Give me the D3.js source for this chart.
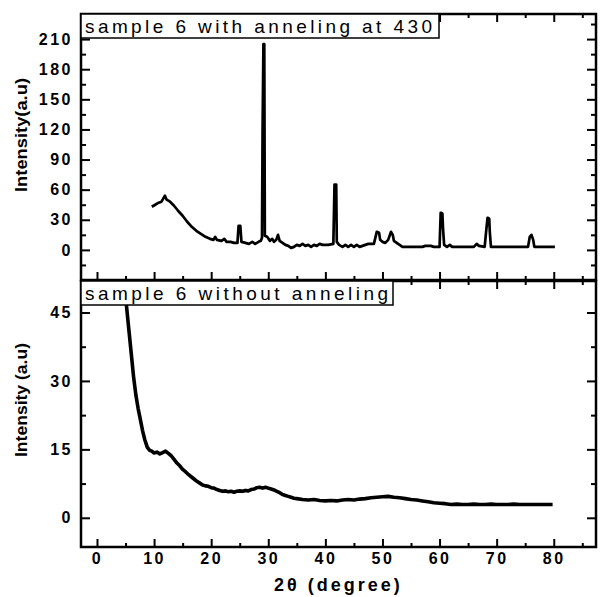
<!DOCTYPE html>
<html>
  <head>
    <meta charset="utf-8">
    <title>XRD sample 6</title>
    <script src="https://d3js.org/d3.v7.min.js"></script>
    <style>
      body { margin: 0; background: #fff; }
      text { font-family: "Liberation Sans", Arial, sans-serif; }
    </style>
  </head>
  <body>
    <script type="text/javascript">
      // 2theta ticks
      var xTicks = [0, 10, 20, 30, 40, 50, 60, 70, 80];
      var topTicks = [0, 30, 60, 90, 120, 150, 180, 210];
      var botTicks = [0, 15, 30, 45];

      // sample 6 with anneling at 430
      var annealX = [9.6, 10.2, 10.8, 11.3, 11.6, 11.9, 12.2, 12.8, 13.5, 14.2, 15.0, 15.8, 16.6, 17.4, 18.2, 19.0, 19.8, 20.4, 20.7, 21.0,
        21.8, 22.3, 22.7, 23.4, 24.0, 24.6, 24.8, 25.1, 25.3, 26.0, 26.6, 27.2, 27.7, 28.3, 28.7, 28.9, 29.0, 29.15, 29.3, 29.4,
        29.8, 30.3, 30.7, 31.0, 31.4, 31.7, 32.0, 32.5, 33.0, 33.5, 34.0, 34.5, 35.0, 35.5, 36.0, 36.5, 37.0, 37.5, 38.0, 38.5,
        39.0, 39.5, 40.0, 40.5, 41.4, 41.6, 41.9, 42.0, 42.4, 43.0, 43.5, 44.0, 44.5, 45.0, 45.5, 46.0, 46.5, 47.5, 48.5, 49.0,
        49.4, 49.6, 50.0, 50.5, 51.0, 51.5, 51.8, 52.0, 52.5, 53.0, 53.5, 55.0, 57.0, 57.5, 58.5, 59.0, 60.0, 60.2, 60.5, 60.6,
        60.8, 61.3, 61.8, 62.2, 64.0, 66.0, 66.5, 66.9, 67.9, 68.1, 68.4, 68.7, 68.8, 69.0, 71.0, 73.0, 75.5, 75.8, 76.1, 76.4,
        76.6, 78.0, 80.2];
      var annealY = [43, 45, 47, 48, 51, 54, 50, 48, 44, 39, 34, 28, 23, 19, 16, 13, 11, 10, 13, 10,
        9, 11, 8, 8, 7, 7, 24, 24, 8, 7, 6, 8, 6, 8, 9, 12, 117, 205, 205, 14,
        13, 9, 11, 8, 10, 15, 9, 7, 5, 4, 2, 3, 5, 4, 6, 4, 5, 3, 5, 4,
        6, 5, 5, 5, 6, 65, 65, 8, 5, 3, 5, 3, 5, 3, 5, 3, 4, 6, 6, 18,
        17, 10, 8, 7, 10, 18, 15, 9, 7, 5, 3, 3, 3, 4, 4, 3, 3, 37, 36, 22,
        5, 3, 5, 3, 3, 3, 6, 4, 3, 15, 32, 31, 18, 3, 3, 3, 3, 13, 15, 10,
        3, 3, 3];

      // sample 6 without anneling
      var rawX = [4.8, 5.2, 5.6, 6.0, 6.4, 6.8, 7.2, 7.6, 8.0, 8.4, 8.8, 9.2, 9.6, 10.0, 10.5, 11.0, 11.5, 12.0, 12.5, 13.0,
        13.5, 14.0, 14.5, 15.0, 15.5, 16.0, 16.5, 17.0, 17.5, 18.0, 18.5, 19.0, 19.5, 20.0, 20.5, 21.0, 21.5, 22.0, 22.5, 23.0,
        23.5, 24.0, 24.5, 25.0, 25.5, 26.0, 26.5, 27.0, 27.5, 28.0, 28.5, 29.0, 29.5, 30.0, 30.5, 31.0, 31.5, 32.0, 32.5, 33.0,
        33.5, 34.0, 34.5, 35.0, 36, 37, 38, 39, 40, 41, 42, 43, 44, 45, 46, 47, 48, 49, 50, 51,
        52, 53, 54, 55, 56, 57, 58, 59, 60, 61, 62, 63, 64, 65, 66, 67, 68, 69, 70, 71,
        72, 73, 74, 75, 76, 77, 78, 79, 79.8];
      var rawY = [52, 46, 41, 36, 31, 27, 24, 21.5, 19, 17, 15.5, 14.8, 14.6, 14.2, 14.4, 14.0, 14.3, 14.6, 14.1, 13.6,
        12.8, 12.0, 11.4, 10.6, 10.1, 9.5, 9.0, 8.5, 8.0, 7.6, 7.2, 7.0, 6.9, 6.6, 6.5, 6.2, 6.0, 5.8, 5.9, 5.7,
        5.8, 5.6, 5.8, 5.9, 5.8, 6.0, 5.9, 6.2, 6.3, 6.6, 6.7, 6.5, 6.7, 6.5, 6.3, 6.1, 5.8, 5.5, 5.1, 4.9,
        4.7, 4.5, 4.3, 4.2, 4.0, 3.9, 4.0, 3.8, 3.7, 3.8, 3.7, 3.9, 4.0, 3.9, 4.1, 4.2, 4.4, 4.5, 4.6, 4.7,
        4.5, 4.4, 4.2, 4.0, 3.9, 3.7, 3.5, 3.3, 3.2, 3.1, 2.9, 3.0, 2.9, 2.9, 3.0, 2.9, 2.9, 3.0, 2.9, 2.9,
        2.9, 3.0, 2.9, 2.9, 2.9, 2.9, 2.9, 2.9, 2.9];

      var W = 600, H = 597;
      var left = 81, right = 596;

      var svg = d3.select('body').append('svg')
                  .attr('width', W)
                  .attr('height', H);

      var x = d3.scaleLinear().domain([-2.8, 87.4]).range([left, right]);

      var panels = [
        { id: 'a', top: 14, bottom: 280, domain: [-30, 235], ticks: topTicks, minorStep: 15,
          xs: annealX, ys: annealY, width: 2.7, label: 'sample 6 with anneling at 430', labelW: 358, textW: 347,
          ylabel: 'Intensity(a.u)', ylabelY: 135 },
        { id: 'b', top: 281, bottom: 547, domain: [-6.4, 51.9], ticks: botTicks, minorStep: 7.5,
          xs: rawX, ys: rawY, width: 3.6, label: 'sample 6 without anneling', labelW: 312, textW: 303,
          ylabel: 'Intensity (a.u)', ylabelY: 400 }
      ];

      var xMinor = d3.range(-0, 90, 5).filter(function (v) { return v % 10 !== 0; });

      panels.forEach(function (p, pi) {
        var y = d3.scaleLinear().domain(p.domain).range([p.bottom, p.top]);
        var g = svg.append('g');
        var yMinor = d3.range(-30, 240, p.minorStep).filter(function (v) {
          return v >= p.domain[0] && v <= p.domain[1] && p.ticks.indexOf(v) < 0;
        });

        g.append('clipPath').attr('id', 'clip' + p.id)
          .append('rect')
          .attr('x', left).attr('y', p.top)
          .attr('width', right - left).attr('height', p.bottom - p.top);

        var pts = p.xs.map(function (d, i) { return [d, p.ys[i]]; });
        var line = d3.line().x(function (d) { return x(d[0]); }).y(function (d) { return y(d[1]); });
        g.append('path')
          .datum(pts)
          .attr('clip-path', 'url(#clip' + p.id + ')')
          .attr('fill', 'none')
          .attr('stroke', '#000')
          .attr('stroke-width', p.width)
          .attr('stroke-linejoin', 'round')
          .attr('d', line);

        // axes with inward ticks
        function addAxis(axis, tx, ty, labels) {
          var a = g.append('g').attr('transform', 'translate(' + tx + ',' + ty + ')').call(axis);
          a.select('.domain').remove();
          a.selectAll('line').attr('stroke-width', 2);
          if (!labels) a.selectAll('text').remove();
          return a;
        }
        var yl = addAxis(d3.axisLeft(y).tickValues(p.ticks).tickSize(-9).tickPadding(8), left, 0, true);
        yl.selectAll('text')
          .attr('font-size', 16).attr('font-weight', 'bold').attr('letter-spacing', 2.5)
          .attr('fill', '#000');
        addAxis(d3.axisLeft(y).tickValues(yMinor).tickSize(-5), left, 0, false);
        addAxis(d3.axisRight(y).tickValues(p.ticks).tickSize(-9), right, 0, false);
        addAxis(d3.axisRight(y).tickValues(yMinor).tickSize(-5), right, 0, false);

        var xb = addAxis(d3.axisBottom(x).tickValues(xTicks).tickSize(-8).tickPadding(6), 0, p.bottom, pi === 1);
        xb.selectAll('text')
          .attr('font-size', 16).attr('font-weight', 'bold').attr('letter-spacing', 2.5)
          .attr('fill', '#000');
        addAxis(d3.axisBottom(x).tickValues(xMinor).tickSize(-4), 0, p.bottom, false);
        addAxis(d3.axisTop(x).tickValues(xTicks).tickSize(-8), 0, p.top, false);
        addAxis(d3.axisTop(x).tickValues(xMinor).tickSize(-4), 0, p.top, false);

        g.append('rect')
          .attr('x', left).attr('y', p.top)
          .attr('width', right - left).attr('height', p.bottom - p.top)
          .attr('fill', 'none').attr('stroke', '#000').attr('stroke-width', 2.5);

        // label box
        g.append('rect')
          .attr('x', left).attr('y', p.top)
          .attr('width', p.labelW).attr('height', 24)
          .attr('fill', '#fff').attr('stroke', '#000').attr('stroke-width', 1.5);
        g.append('text')
          .attr('x', left + 4).attr('y', p.top + 19)
          .attr('font-size', 19)
          .attr('textLength', p.textW)
          .attr('lengthAdjust', 'spacing')
          .text(p.label);

        g.append('text')
          .attr('transform', 'translate(27,' + p.ylabelY + ') rotate(-90)')
          .attr('text-anchor', 'middle')
          .attr('font-size', 17)
          .attr('font-weight', 'bold')
          .attr('textLength', 114)
          .attr('lengthAdjust', 'spacingAndGlyphs')
          .text(p.ylabel);
      });

      svg.append('text')
        .attr('x', (left + right) / 2)
        .attr('y', 591)
        .attr('text-anchor', 'middle')
        .attr('font-size', 18)
        .attr('font-weight', 'bold')
        .attr('letter-spacing', 3)
        .text('2θ (degree)');
    </script>
  </body>
</html>
